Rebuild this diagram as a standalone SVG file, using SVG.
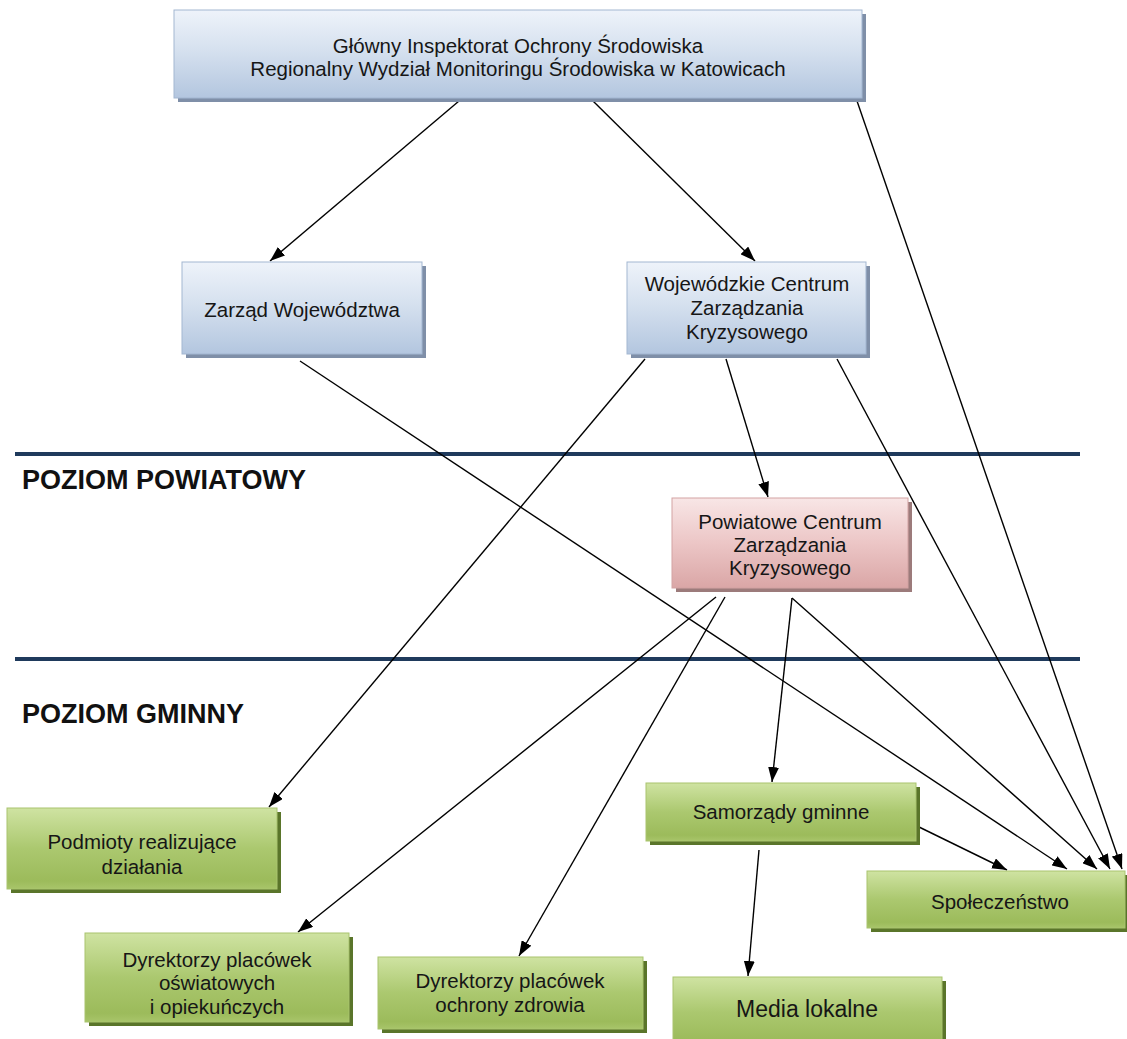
<svg xmlns="http://www.w3.org/2000/svg" width="1127" height="1039" viewBox="0 0 1127 1039">
<style>
  .t { font-family: "Liberation Sans", Arial, sans-serif; font-size: 20.5px; fill: #161616; text-anchor: middle; }
  .big { font-size: 23px; }
  .lvl { font-family: "Liberation Sans", Arial, sans-serif; font-size: 27px; font-weight: bold; fill: #111; }
  .blue { fill: url(#gBlue); stroke: #a3b7d1; stroke-width: 1; }
  .pink { fill: url(#gPink); stroke: #d3a3a3; stroke-width: 1; }
  .green { fill: url(#gGreen); stroke: #a9c46f; stroke-width: 1; }
  .shB { fill: #7f8fa8; }
  .shP { fill: #9c7b7b; }
  .shG { fill: #5a752a; }
  .sep { stroke: #1f3a5c; stroke-width: 4; }
  .c { stroke: #000; stroke-width: 1.4; fill: none; marker-end: url(#arr); }
</style>
<defs>
  <linearGradient id="gBlue" x1="0" y1="0" x2="0" y2="1">
    <stop offset="0" stop-color="#eef3fa"/>
    <stop offset="0.45" stop-color="#d6e1ef"/>
    <stop offset="1" stop-color="#b3c6df"/>
  </linearGradient>
  <linearGradient id="gPink" x1="0" y1="0" x2="0" y2="1">
    <stop offset="0" stop-color="#f8e6e6"/>
    <stop offset="0.5" stop-color="#ecc6c6"/>
    <stop offset="1" stop-color="#daa6a6"/>
  </linearGradient>
  <linearGradient id="gGreen" x1="0" y1="0" x2="0" y2="1">
    <stop offset="0" stop-color="#cfe3a2"/>
    <stop offset="0.5" stop-color="#abc86f"/>
    <stop offset="0.9" stop-color="#9cbb5b"/>
    <stop offset="1" stop-color="#a8c56a"/>
  </linearGradient>
  <marker id="arr" viewBox="0 0 15 11" markerWidth="15" markerHeight="11" refX="15" refY="5.5" orient="auto" markerUnits="userSpaceOnUse">
    <path d="M0,0 L15,5.5 L0,11 z" fill="#000"/>
  </marker>
</defs>
<rect width="1127" height="1039" fill="#fff"/>

<g id="separators">
  <line class="sep" x1="15" y1="454" x2="1080" y2="454"/>
  <line class="sep" x1="15" y1="659" x2="1080" y2="659"/>
  <text class="lvl" x="22" y="489">POZIOM POWIATOWY</text>
  <text class="lvl" x="22" y="723">POZIOM GMINNY</text>
</g>

<g id="connectors">
  <line class="c" x1="459" y1="101" x2="270" y2="261"/>
  <line class="c" x1="593" y1="101" x2="755" y2="261"/>
  <line class="c" x1="857" y1="101" x2="1122" y2="869"/>
  <line class="c" x1="300" y1="361" x2="1067" y2="869"/>
  <line class="c" x1="645" y1="359" x2="269" y2="807"/>
  <line class="c" x1="726" y1="359" x2="768" y2="497"/>
  <line class="c" x1="837" y1="359" x2="1110" y2="869"/>
  <line class="c" x1="716" y1="597" x2="298" y2="932"/>
  <line class="c" x1="725" y1="597" x2="519" y2="956"/>
  <line class="c" x1="792" y1="598" x2="772" y2="782"/>
  <line class="c" x1="792" y1="598" x2="1097" y2="869"/>
  <line class="c" x1="917" y1="826" x2="1007" y2="870"/>
  <line class="c" x1="759" y1="850" x2="748" y2="976"/>
</g>

<g id="n-gios">
  <rect class="shB" x="178" y="14" width="688" height="88"/>
  <rect class="blue" x="174" y="10" width="688" height="88"/>
  <text class="t" x="518" y="53">Główny Inspektorat Ochrony Środowiska</text>
  <text class="t" x="518" y="76">Regionalny Wydział Monitoringu Środowiska w Katowicach</text>
</g>

<g id="n-zarzad">
  <rect class="shB" x="186" y="266" width="240" height="92"/>
  <rect class="blue" x="182" y="262" width="240" height="92"/>
  <text class="t" x="302" y="317">Zarząd Województwa</text>
</g>

<g id="n-wczk">
  <rect class="shB" x="631" y="266" width="239" height="92"/>
  <rect class="blue" x="627" y="262" width="239" height="92"/>
  <text class="t" x="747" y="291">Wojewódzkie Centrum</text>
  <text class="t" x="747" y="315">Zarządzania</text>
  <text class="t" x="747" y="339">Kryzysowego</text>
</g>

<g id="n-pczk">
  <rect class="shP" x="676" y="502" width="236" height="90"/>
  <rect class="pink" x="672" y="498" width="236" height="90"/>
  <text class="t" x="790" y="529">Powiatowe Centrum</text>
  <text class="t" x="790" y="552">Zarządzania</text>
  <text class="t" x="790" y="575">Kryzysowego</text>
</g>

<g id="n-podmioty">
  <rect class="shG" x="11" y="812" width="270" height="81"/>
  <rect class="green" x="7" y="808" width="270" height="81"/>
  <text class="t" x="142" y="849">Podmioty realizujące</text>
  <text class="t" x="142" y="874">działania</text>
</g>

<g id="n-oswiat">
  <rect class="shG" x="89" y="937" width="264" height="89"/>
  <rect class="green" x="85" y="933" width="264" height="89"/>
  <text class="t" x="217" y="967">Dyrektorzy placówek</text>
  <text class="t" x="217" y="990">oświatowych</text>
  <text class="t" x="217" y="1014">i opiekuńczych</text>
</g>

<g id="n-zdrowie">
  <rect class="shG" x="382" y="961" width="265" height="72"/>
  <rect class="green" x="378" y="957" width="265" height="72"/>
  <text class="t" x="510" y="988">Dyrektorzy placówek</text>
  <text class="t" x="510" y="1012">ochrony zdrowia</text>
</g>

<g id="n-samorzady">
  <rect class="shG" x="650" y="787" width="270" height="58"/>
  <rect class="green" x="646" y="783" width="270" height="58"/>
  <text class="t" x="781" y="819">Samorządy gminne</text>
</g>

<g id="n-spoleczenstwo">
  <rect class="shG" x="871" y="875" width="258" height="57"/>
  <rect class="green" x="867" y="871" width="258" height="57"/>
  <text class="t" x="1000" y="909">Społeczeństwo</text>
</g>

<g id="n-media">
  <rect class="shG" x="677" y="981" width="269" height="70"/>
  <rect class="green" x="673" y="977" width="269" height="70"/>
  <text class="t big" x="807" y="1017">Media lokalne</text>
</g>
</svg>
